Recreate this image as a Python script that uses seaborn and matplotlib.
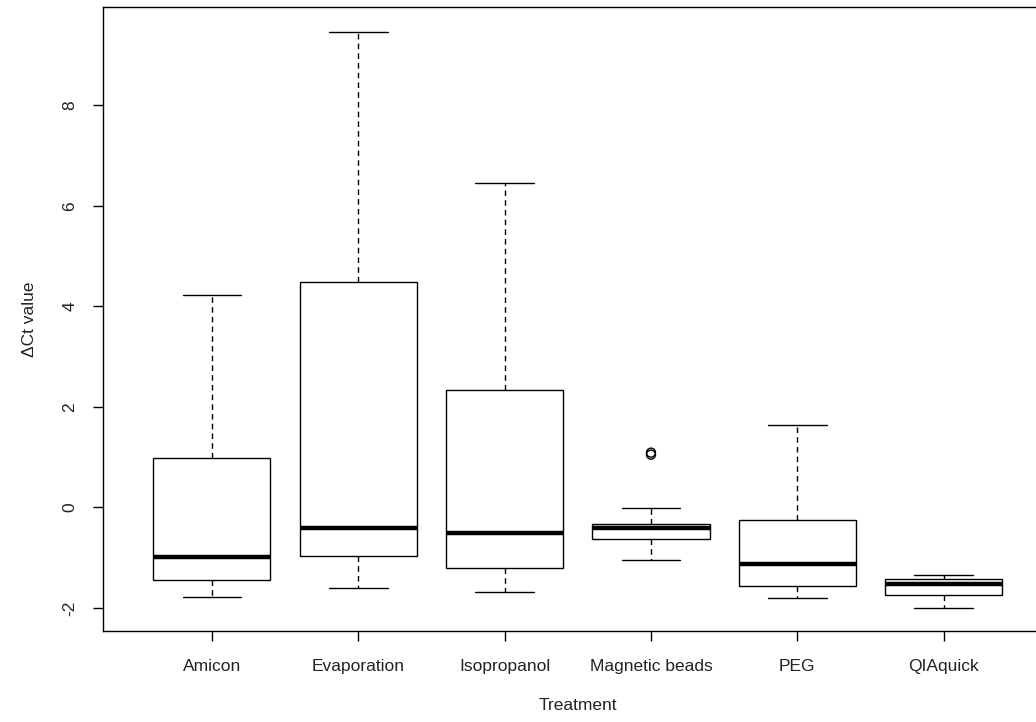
import matplotlib
matplotlib.use("Agg")
import matplotlib.pyplot as plt
import pandas as pd
import seaborn as sns

# --- Values (five-number summary per treatment) ---
treatments = ["Amicon", "Evaporation", "Isopropanol", "Magnetic beads", "PEG", "QIAquick"]
whisker_low = [-1.79, -1.60, -1.69, -1.04, -1.80, -2.00]
q1 = [-1.45, -0.96, -1.21, -0.62, -1.57, -1.75]
median = [-0.98, -0.41, -0.51, -0.41, -1.12, -1.53]
q3 = [0.99, 4.48, 2.33, -0.33, -0.25, -1.43]
whisker_high = [4.23, 9.47, 6.45, -0.02, 1.65, -1.34]

outlier_group = ["Magnetic beads", "Magnetic beads"]
outlier_values = [1.05, 1.09]

y_ticks = [-2, 0, 2, 4, 6, 8]

# --- Build long table ---
rows = []
for i, t in enumerate(treatments):
    for v in (whisker_low[i], q1[i], median[i], q3[i], whisker_high[i]):
        rows.append({"Treatment": t, "value": v})
df = pd.DataFrame(rows)

# --- Style ---
sns.set_style("ticks")
plt.rcParams["font.family"] = ["Liberation Sans", "DejaVu Sans"]
plt.rcParams["axes.unicode_minus"] = False

fig = plt.figure(figsize=(10.36, 7.22), dpi=100)
W, H = 1036, 722
ax = fig.add_axes([103.3 / W, (H - 631) / H, 949 / W, 624 / H])

sns.boxplot(
    data=df, x="Treatment", y="value", order=treatments,
    whis=(0, 100), width=0.8, color="white", linecolor="black",
    linewidth=1.0, showfliers=False, ax=ax,
    medianprops=dict(linewidth=3.2, color="black", solid_capstyle="butt"),
    whiskerprops=dict(linestyle=(0, (4, 3)), linewidth=1.0),
    capprops=dict(linewidth=1.0),
    boxprops=dict(linewidth=1.0),
)

# outliers as open circles
pos = [treatments.index(g) for g in outlier_group]
ax.scatter(pos, outlier_values, s=42, facecolors="none", edgecolors="black", linewidths=1.0, zorder=5)

ax.set_xlim(-0.742, 5.742)
ax.set_ylim(-2.46, 9.96)
ax.set_yticks(y_ticks)
ax.set_yticklabels([str(v) for v in y_ticks])

for s in ax.spines.values():
    s.set_color("black")
    s.set_linewidth(1.0)

ax.tick_params(axis="both", length=7.5, width=1.0, color="black", labelsize=12.5, labelcolor="#222222")
ax.tick_params(axis="x", pad=13)
ax.tick_params(axis="y", pad=11, labelrotation=90)
for lab in ax.get_yticklabels():
    lab.set_va("center")

ax.set_xlabel("Treatment", fontsize=12.5, color="#222222")
ax.set_ylabel("\u0394Ct value", fontsize=12.5, color="#222222")
ax.xaxis.set_label_coords(0.5, (631 - 705) / 624)
ax.xaxis.label.set_va("center")
ax.yaxis.set_label_coords((30 - 103.3) / 949, 0.5)
ax.yaxis.label.set_va("center")

fig.savefig("out.png", dpi=100)
